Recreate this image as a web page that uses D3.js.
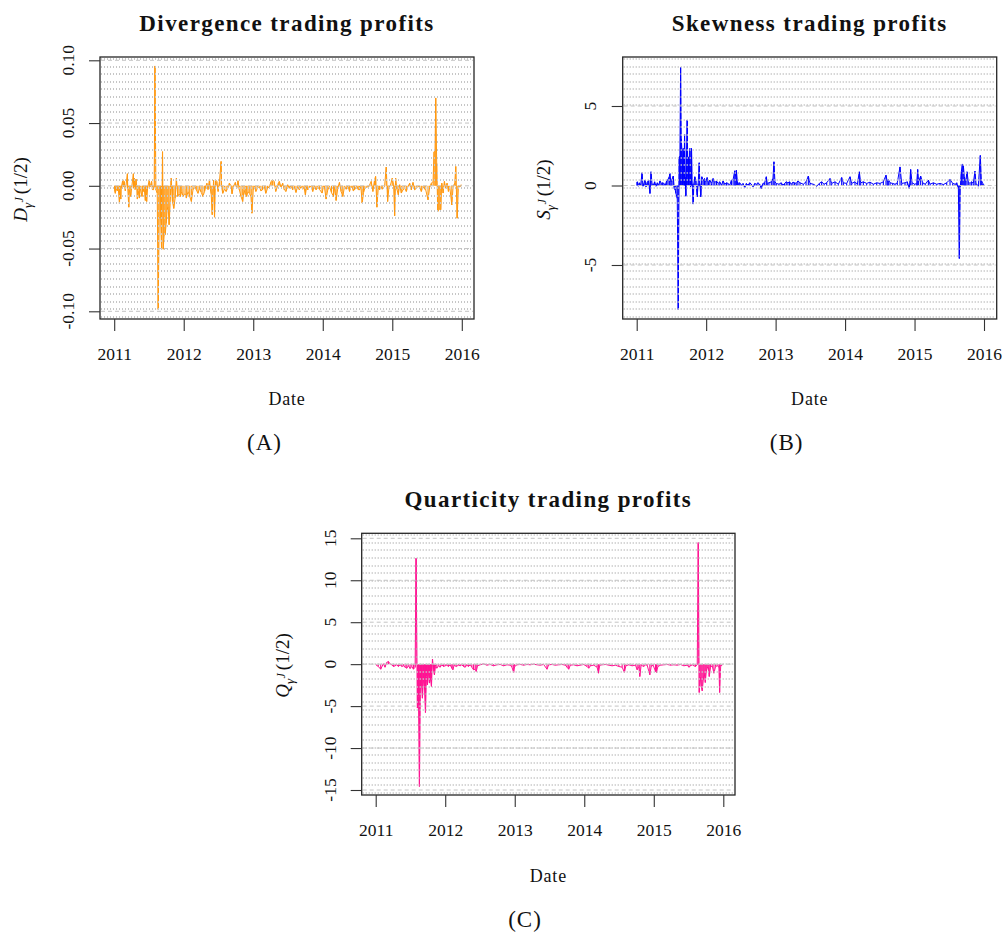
<!DOCTYPE html>
<html><head><meta charset="utf-8">
<script src="https://cdn.jsdelivr.net/npm/d3@7"></script>
<style>
body{margin:0;background:#fff}
svg{display:block}
text{font-family:"Liberation Serif","Times New Roman",serif;fill:#111}
</style>
</head><body>
<svg id="c" width="1007" height="936"></svg>
<script>
// ---------------- data ----------------
const yearTicks = [2011, 2012, 2013, 2014, 2015, 2016];
const divergenceTicks = [-0.10, -0.05, 0, 0.05, 0.10];
const divergenceTickLabels = ["-0.10", "-0.05", "0.00", "0.05", "0.10"];
const skewnessTicks = [-5, 0, 5];
const skewnessTickLabels = ["-5", "0", "5"];
const quarticityTicks = [-15, -10, -5, 0, 5, 10, 15];
const quarticityTickLabels = ["-15", "-10", "-5", "0", "5", "10", "15"];
const titles = ["Divergence trading profits", "Skewness trading profits", "Quarticity trading profits"];
const captions = ["(A)", "(B)", "(C)"];
const yLetters = ["D", "S", "Q"];

// [decimal year, profit]
const divergence = [
[2011.005,-0.001],[2011.010,-0.0045],[2011.016,-0.006],[2011.030,-0.002],[2011.045,-0.004],[2011.057,-0.001],[2011.076,-0.0144],[2011.080,-0.003],[2011.095,-0.0106],[2011.100,-0.002],
[2011.124,0.0048],[2011.130,-0.001],[2011.143,0.0035],[2011.160,-0.004],[2011.190,0.0096],[2011.195,-0.002],[2011.210,-0.017],[2011.215,-0.003],[2011.238,-0.0085],[2011.250,-0.002],
[2011.276,0.0096],[2011.282,-0.002],[2011.290,0.006],[2011.300,-0.003],[2011.314,0.0053],[2011.325,-0.001],[2011.333,-0.0106],[2011.345,-0.004],[2011.362,-0.0098],[2011.375,-0.002],
[2011.400,-0.0085],[2011.410,-0.002],[2011.419,-0.0045],[2011.430,-0.001],[2011.448,-0.0117],[2011.455,-0.003],[2011.467,-0.0125],[2011.480,-0.002],[2011.505,0.0048],[2011.515,-0.001],
[2011.538,0.0035],[2011.550,-0.003],[2011.562,-0.0032],[2011.575,-0.001],[2011.586,0.0955],[2011.600,-0.0032],[2011.619,-0.0058],[2011.633,-0.0985],[2011.648,-0.0245],[2011.667,-0.026],
[2011.681,-0.0505],[2011.695,0.0272],[2011.705,-0.0505],[2011.719,-0.039],[2011.733,-0.039],[2011.748,-0.030],[2011.762,-0.019],[2011.776,-0.0165],[2011.790,-0.031],[2011.810,-0.0085],
[2011.819,0.006],[2011.838,-0.0125],[2011.857,-0.018],[2011.876,-0.010],[2011.895,0.006],[2011.914,-0.0085],[2011.933,-0.0064],[2011.952,-0.0085],[2011.971,-0.0045],[2011.990,-0.0085],
[2012.019,-0.006],[2012.038,-0.0098],[2012.062,-0.0045],[2012.086,-0.0085],[2012.110,-0.0125],[2012.133,-0.0032],[2012.162,-0.0005],[2012.181,-0.0032],[2012.205,-0.006],[2012.229,-0.002],
[2012.250,-0.005],[2012.276,-0.0085],[2012.300,-0.0045],[2012.315,-0.001],[2012.333,0.002],[2012.350,-0.003],[2012.371,0.0053],[2012.381,-0.002],[2012.395,-0.0064],[2012.410,-0.023],
[2012.429,0.0043],[2012.443,-0.025],[2012.457,0.0048],[2012.476,0.0035],[2012.495,-0.0045],[2012.514,0.0035],[2012.538,0.0194],[2012.545,-0.001],[2012.562,-0.006],[2012.586,-0.0027],
[2012.610,-0.0045],[2012.633,-0.0019],[2012.657,0.0021],[2012.681,0.0],[2012.695,-0.0064],[2012.714,-0.0005],[2012.743,0.0027],[2012.762,-0.0019],[2012.781,0.004],[2012.800,-0.0032],
[2012.824,-0.0085],[2012.848,-0.0125],[2012.867,-0.0032],[2012.886,-0.007],[2012.905,-0.0085],[2012.924,-0.0045],[2012.943,-0.006],[2012.967,-0.0085],[2012.981,-0.0218],[2013.000,-0.0032],
[2013.020,-0.001],[2013.038,-0.0045],[2013.060,-0.002],[2013.086,-0.0005],[2013.110,-0.004],[2013.133,-0.0032],[2013.160,-0.001],[2013.181,-0.006],[2013.205,-0.002],[2013.229,-0.001],
[2013.257,0.0032],[2013.276,0.0048],[2013.300,0.0035],[2013.324,-0.0045],[2013.345,-0.001],[2013.362,0.0021],[2013.375,0.0035],[2013.400,-0.001],[2013.423,0.0021],[2013.447,-0.0032],
[2013.471,-0.0045],[2013.495,0.0008],[2013.519,-0.0019],[2013.543,0.0],[2013.567,-0.0032],[2013.591,-0.001],[2013.615,-0.0053],[2013.639,-0.0005],[2013.663,-0.0032],[2013.688,-0.0005],
[2013.712,-0.0027],[2013.731,-0.001],[2013.750,-0.0072],[2013.769,-0.0005],[2013.784,-0.0032],[2013.808,-0.001],[2013.832,-0.0005],[2013.856,-0.0045],[2013.880,0.0],[2013.904,-0.0032],
[2013.928,-0.001],[2013.952,-0.0027],[2013.990,-0.0058],[2014.010,-0.0005],[2014.024,-0.001],[2014.048,-0.0106],[2014.072,-0.0032],[2014.096,-0.0005],[2014.125,-0.0053],[2014.154,-0.0085],
[2014.173,-0.001],[2014.192,-0.0117],[2014.216,-0.0019],[2014.240,0.0027],[2014.264,-0.0045],[2014.288,-0.0085],[2014.313,-0.0005],[2014.337,-0.0027],[2014.361,0.0],[2014.385,-0.0045],
[2014.405,-0.001],[2014.423,-0.001],[2014.440,-0.004],[2014.457,-0.0032],[2014.490,0.0],[2014.510,-0.003],[2014.529,-0.0032],[2014.548,-0.0005],[2014.567,-0.0138],[2014.587,-0.0053],
[2014.606,-0.0019],[2014.635,-0.001],[2014.663,-0.0005],[2014.697,0.0035],[2014.721,-0.0045],[2014.745,0.0048],[2014.760,0.0075],[2014.779,-0.017],[2014.798,-0.0019],[2014.817,-0.0032],
[2014.840,-0.001],[2014.856,-0.0027],[2014.889,-0.0005],[2014.913,0.0149],[2014.933,-0.0125],[2014.952,-0.001],[2014.971,0.0],[2015.000,0.0061],[2015.019,0.0008],[2015.034,-0.0239],
[2015.048,0.0061],[2015.067,-0.0027],[2015.087,-0.0072],[2015.106,0.0008],[2015.130,-0.0058],[2015.154,-0.0032],[2015.178,-0.0019],[2015.202,-0.0045],[2015.226,-0.0005],[2015.250,0.0021],
[2015.274,-0.0032],[2015.298,0.0027],[2015.322,-0.0032],[2015.346,-0.0019],[2015.370,-0.0005],[2015.394,-0.001],[2015.418,-0.0045],[2015.442,-0.0005],[2015.466,-0.0027],[2015.481,-0.0032],
[2015.514,-0.0112],[2015.538,-0.001],[2015.563,0.0021],[2015.587,0.0035],[2015.601,0.027],[2015.615,0.028],[2015.625,0.070],[2015.639,0.018],[2015.654,-0.0205],[2015.668,-0.019],
[2015.683,-0.0186],[2015.697,-0.019],[2015.712,0.0021],[2015.731,-0.0058],[2015.750,0.0035],[2015.769,-0.0019],[2015.788,0.0021],[2015.808,-0.0045],[2015.827,-0.0008],[2015.856,-0.0152],
[2015.875,-0.0005],[2015.899,0.0021],[2015.913,0.0154],[2015.933,-0.0258],[2015.952,0.0],[2015.971,-0.001],[2015.990,0.0008]
];

const skewness = [
[2011.003,0.2],[2011.010,0.23],[2011.024,-0.04],[2011.038,0.17],[2011.057,0.02],[2011.077,0.80],[2011.091,-0.04],[2011.105,0.13],[2011.120,0.34],[2011.134,-0.08],
[2011.153,0.21],[2011.172,0.34],[2011.191,-0.50],[2011.206,0.86],[2011.220,0.13],[2011.239,0.02],[2011.258,0.23],[2011.278,-0.04],[2011.297,0.17],[2011.316,0.02],
[2011.335,0.29],[2011.354,0.13],[2011.373,0.17],[2011.392,0.13],[2011.411,0.02],[2011.431,0.29],[2011.450,0.38],[2011.469,0.55],[2011.478,0.75],[2011.493,0.21],
[2011.507,0.38],[2011.526,0.59],[2011.541,-0.19],[2011.555,-0.29],[2011.565,-0.50],[2011.584,-0.82],[2011.598,-7.80],[2011.612,1.80],[2011.622,1.85],[2011.632,7.42],
[2011.641,2.96],[2011.651,2.22],[2011.660,0.96],[2011.670,2.33],[2011.679,0.13],[2011.689,3.23],[2011.699,0.55],[2011.708,-0.67],[2011.718,2.22],[2011.727,4.11],
[2011.737,0.55],[2011.746,1.80],[2011.756,0.38],[2011.766,2.33],[2011.775,-0.08],[2011.789,2.33],[2011.799,0.13],[2011.813,-1.17],[2011.823,0.13],[2011.837,0.55],
[2011.852,0.29],[2011.871,-0.71],[2011.885,0.13],[2011.900,1.43],[2011.909,0.13],[2011.923,-0.71],[2011.938,0.55],[2011.957,0.29],[2011.976,0.44],[2011.995,0.23],
[2012.014,0.50],[2012.033,0.17],[2012.053,0.34],[2012.077,0.13],[2012.100,0.44],[2012.124,0.17],[2012.148,0.29],[2012.172,0.13],[2012.196,0.23],[2012.220,0.02],
[2012.244,0.29],[2012.268,0.08],[2012.292,0.17],[2012.316,0.13],[2012.340,0.02],[2012.364,0.34],[2012.388,0.38],[2012.411,0.92],[2012.426,0.55],[2012.435,0.96],
[2012.450,0.23],[2012.464,0.13],[2012.483,0.17],[2012.507,0.02],[2012.531,0.13],[2012.555,-0.13],[2012.579,0.13],[2012.603,0.02],[2012.627,0.17],[2012.651,0.08],
[2012.675,-0.08],[2012.699,0.13],[2012.722,0.08],[2012.746,0.17],[2012.770,0.08],[2012.794,-0.19],[2012.818,0.13],[2012.842,0.17],[2012.866,0.55],[2012.880,0.13],
[2012.904,0.17],[2012.938,0.23],[2012.962,0.44],[2012.976,1.49],[2012.990,0.23],[2013.010,0.13],[2013.048,0.08],[2013.081,0.17],[2013.105,0.02],[2013.129,0.13],
[2013.153,0.23],[2013.177,0.17],[2013.201,0.23],[2013.225,0.08],[2013.249,0.21],[2013.273,0.17],[2013.297,0.13],[2013.321,0.29],[2013.351,0.17],[2013.399,0.08],
[2013.438,0.23],[2013.471,0.59],[2013.495,0.13],[2013.543,0.08],[2013.591,-0.04],[2013.630,0.13],[2013.663,0.23],[2013.697,0.08],[2013.735,0.17],[2013.783,0.44],
[2013.807,0.13],[2013.855,0.23],[2013.903,0.08],[2013.951,0.50],[2013.975,0.17],[2014.023,0.13],[2014.071,0.55],[2014.095,0.13],[2014.143,0.23],[2014.177,0.08],
[2014.205,0.86],[2014.225,0.17],[2014.263,0.23],[2014.311,0.13],[2014.359,0.21],[2014.407,0.08],[2014.455,0.17],[2014.503,0.13],[2014.551,0.23],[2014.589,0.65],
[2014.608,0.23],[2014.623,0.38],[2014.647,0.17],[2014.685,0.13],[2014.719,0.08],[2014.752,0.17],[2014.791,1.17],[2014.815,0.13],[2014.863,0.17],[2014.896,0.23],
[2014.925,-0.19],[2014.944,1.01],[2014.964,0.17],[2015.002,0.08],[2015.031,0.13],[2015.045,1.01],[2015.059,0.23],[2015.088,0.59],[2015.117,0.17],[2015.155,0.08],
[2015.199,0.34],[2015.223,0.08],[2015.271,0.17],[2015.319,0.08],[2015.367,0.13],[2015.415,0.06],[2015.463,0.17],[2015.511,0.38],[2015.549,0.13],[2015.587,0.08],
[2015.607,0.17],[2015.631,-0.19],[2015.645,-4.59],[2015.659,-0.08],[2015.674,0.86],[2015.688,1.34],[2015.702,1.28],[2015.717,0.55],[2015.736,0.23],[2015.755,0.86],
[2015.774,0.23],[2015.798,0.13],[2015.822,0.23],[2015.846,0.13],[2015.870,0.90],[2015.885,0.13],[2015.918,-0.04],[2015.947,1.89],[2015.962,0.34],[2015.981,0.13],
[2015.995,0.08]
];

const quarticity = [
[2011.003,-0.08],[2011.038,-0.28],[2011.072,-0.60],[2011.110,0.04],[2011.134,-0.36],[2011.159,0.20],[2011.183,0.32],[2011.207,0.04],[2011.231,-0.08],[2011.255,-0.28],
[2011.279,-0.20],[2011.303,-0.08],[2011.327,-0.28],[2011.351,-0.08],[2011.375,-0.28],[2011.399,-0.20],[2011.423,-0.36],[2011.447,-0.48],[2011.471,-0.20],[2011.495,-0.52],
[2011.519,-0.28],[2011.543,-0.60],[2011.567,-0.36],[2011.581,12.62],[2011.600,-5.24],[2011.615,-3.85],[2011.629,-14.57],[2011.644,-2.66],[2011.658,-2.26],[2011.672,-4.05],
[2011.687,-1.87],[2011.701,-2.66],[2011.716,-5.76],[2011.730,-1.47],[2011.744,-2.46],[2011.759,-1.07],[2011.773,-2.26],[2011.788,-1.67],[2011.802,-2.66],[2011.817,0.60],
[2011.831,-0.67],[2011.845,-1.27],[2011.860,-0.28],[2011.879,-0.48],[2011.903,-0.20],[2011.927,-0.36],[2011.951,-0.08],[2011.975,-0.28],[2011.999,-0.20],[2012.023,-0.12],
[2012.047,-0.28],[2012.071,-0.08],[2012.095,-0.48],[2012.110,-0.67],[2012.129,-0.12],[2012.158,-0.28],[2012.191,-0.12],[2012.215,-0.20],[2012.239,-0.08],[2012.263,-0.28],
[2012.287,-0.36],[2012.311,-0.12],[2012.335,-0.28],[2012.359,-0.08],[2012.383,-0.36],[2012.407,-0.67],[2012.431,-0.60],[2012.446,-0.87],[2012.465,-0.20],[2012.503,-0.08],
[2012.551,0.04],[2012.599,-0.12],[2012.647,-0.04],[2012.695,-0.20],[2012.744,-0.08],[2012.792,-0.04],[2012.840,-0.20],[2012.888,-0.08],[2012.936,-0.12],[2012.960,-0.36],
[2012.984,-0.99],[2012.998,-0.28],[2013.032,-0.08],[2013.080,-0.04],[2013.128,-0.12],[2013.176,-0.04],[2013.224,-0.08],[2013.272,0.00],[2013.320,-0.08],[2013.368,-0.12],
[2013.416,-0.04],[2013.464,-0.60],[2013.488,-0.08],[2013.536,-0.04],[2013.584,-0.12],[2013.632,-0.08],[2013.680,-0.04],[2013.728,-0.12],[2013.752,-0.36],[2013.776,-0.60],
[2013.800,-0.12],[2013.848,-0.08],[2013.896,-0.20],[2013.944,-0.12],[2013.992,-0.04],[2014.040,-0.28],[2014.064,-0.48],[2014.088,-0.20],[2014.136,-0.12],[2014.185,-0.36],
[2014.204,-1.07],[2014.223,-0.12],[2014.256,-0.08],[2014.305,-0.04],[2014.353,-0.12],[2014.401,-0.20],[2014.449,-0.12],[2014.497,-0.28],[2014.545,-0.36],[2014.578,-0.99],
[2014.598,-0.20],[2014.641,-0.08],[2014.689,-0.20],[2014.737,-0.12],[2014.761,-0.67],[2014.785,-0.28],[2014.799,-1.47],[2014.818,-0.12],[2014.857,-0.28],[2014.881,-0.08],
[2014.905,-0.12],[2014.943,-1.27],[2014.963,-0.28],[2014.991,-0.12],[2015.025,-0.87],[2015.039,-0.99],[2015.059,-0.28],[2015.097,-0.12],[2015.145,-0.08],[2015.193,-0.04],
[2015.241,-0.12],[2015.289,-0.08],[2015.337,-0.12],[2015.385,-0.04],[2015.433,-0.20],[2015.481,-0.12],[2015.505,-0.36],[2015.529,-0.20],[2015.553,-0.08],[2015.577,-0.20],
[2015.601,-0.28],[2015.625,-0.04],[2015.640,14.49],[2015.654,-3.37],[2015.669,-1.47],[2015.683,-2.66],[2015.697,-3.18],[2015.712,-1.87],[2015.726,-1.07],[2015.741,-2.18],
[2015.755,-0.87],[2015.769,-0.48],[2015.784,-0.28],[2015.798,-1.47],[2015.817,-0.36],[2015.841,-0.20],[2015.865,-1.07],[2015.889,-0.28],[2015.913,-0.20],[2015.937,-0.36],
[2015.947,-3.37],[2015.962,-0.28],[2015.986,-0.08]
];

// ---------------- layout ----------------
const panels = [
  {id:"A", data:divergence, ticks:divergenceTicks, tickLabels:divergenceTickLabels, color:"#FF9912",
   box:{l:100,r:474,t:57,b:319}, xr:[114.2,461.8], yd:[-0.10,0.10], yr:[311.3,60.3],
   tickLabX:67.8, ylabX:27, ylabY:189.5, titleY:30.5, dateY:405, capX:264.5, capY:450},
  {id:"B", data:skewness, ticks:skewnessTicks, tickLabels:skewnessTickLabels, color:"#0000FF",
   box:{l:622.7,r:996.7,t:57,b:319}, xr:[636.7,984], yd:[-5,5], yr:[265,106],
   tickLabX:590, ylabX:549.5, ylabY:189.5, titleY:30.5, dateY:405, capX:786.7, capY:450},
  {id:"C", data:quarticity, ticks:quarticityTicks, tickLabels:quarticityTickLabels, color:"#FF1493",
   box:{l:361.7,r:735,t:533.3,b:795}, xr:[375.7,723.3], yd:[-15,15], yr:[790,538.3],
   tickLabX:330.5, ylabX:288.5, ylabY:665.5, titleY:506.5, dateY:881.5, capX:525, capY:926.5}
];

const svg = d3.select("#c");
const defs = svg.append("defs");

panels.forEach((p, i) => {
  const {l, r, t, b} = p.box;
  const x = d3.scaleLinear().domain([2011, 2016]).range(p.xr);
  const y = d3.scaleLinear().domain(p.yd).range(p.yr);
  const g = svg.append("g");

  defs.append("clipPath").attr("id", "clip" + p.id)
    .append("rect").attr("x", l).attr("y", t).attr("width", r - l).attr("height", b - t);

  const series = g.append("g").attr("clip-path", `url(#clip${p.id})`);
  // connecting line
  series.append("path").datum(p.data)
    .attr("d", d3.line().x(d => x(d[0])).y(d => y(d[1])))
    .attr("fill", "none").attr("stroke", p.color).attr("stroke-width", 1)
    .attr("stroke-linejoin", "miter");
  // daily moves drawn as vertical strokes from zero
  series.append("g").selectAll("line").data(p.data).join("line")
    .attr("x1", d => x(d[0])).attr("x2", d => x(d[0]))
    .attr("y1", y(0)).attr("y2", d => y(d[1]))
    .attr("stroke", p.color).attr("stroke-width", 1.1);

  // fine dotted grid (drawn over the series)
  const n = 34;
  const gy = d3.range(n + 1).map(k => Math.round(t + 2 + k * (b - t - 4) / n));
  g.append("g").selectAll("line").data(gy).join("line")
    .attr("x1", l + 1).attr("x2", r - 1).attr("y1", d => d).attr("y2", d => d)
    .attr("stroke", "#c6c6c6").attr("stroke-width", 2).attr("stroke-dasharray", "1,2");

  // dashed grid at ticks
  g.append("g").selectAll("line").data(p.ticks).join("line")
    .attr("x1", l + 1).attr("x2", r - 1)
    .attr("y1", d => y(d)).attr("y2", d => y(d))
    .attr("stroke", "#c4c4c4").attr("stroke-width", 1).attr("stroke-dasharray", "4,3");

  // box
  g.append("rect").attr("x", l).attr("y", t).attr("width", r - l).attr("height", b - t)
    .attr("fill", "none").attr("stroke", "#262626").attr("stroke-width", 1.3);

  // x axis
  const xa = g.append("g").attr("transform", `translate(0,${b})`)
    .call(d3.axisBottom(x).tickValues(yearTicks).tickFormat(d3.format("d")).tickSize(12));
  xa.select(".domain").remove();
  xa.attr("font-family", null).attr("font-size", null);
  xa.selectAll("line").attr("stroke", "#333").attr("stroke-width", 1.1);
  xa.selectAll("text").attr("y", 41).attr("dy", null)
    .style("font-size", "17.5px").attr("fill", "#111");

  // y axis
  const ya = g.append("g").attr("transform", `translate(${l},0)`)
    .call(d3.axisLeft(y).tickValues(p.ticks).tickFormat("").tickSize(11));
  ya.select(".domain").remove();
  ya.selectAll("line").attr("stroke", "#333").attr("stroke-width", 1.1);
  g.append("g").selectAll("text").data(p.ticks).join("text")
    .attr("transform", d => `translate(${p.tickLabX},${y(d)}) rotate(-90)`)
    .attr("text-anchor", "middle").attr("dy", "0.33em")
    .style("font-size", "17.5px")
    .text((d, k) => p.tickLabels[k]);

  // y label
  const yl = g.append("text")
    .attr("transform", `translate(${p.ylabX},${p.ylabY}) rotate(-90)`)
    .attr("text-anchor", "middle").style("font-size", "19px");
  yl.append("tspan").attr("font-style", "italic").text(yLetters[i]);
  yl.append("tspan").attr("font-style", "italic").style("font-size", "13px").attr("dy", 5).text("γ");
  yl.append("tspan").attr("font-style", "italic").style("font-size", "12px").attr("dy", -9).attr("dx", 0.5).text("J");
  yl.append("tspan").attr("dy", 4).attr("dx", 3).text("(1/2)");

  // title
  const cx = (l + r) / 2;
  g.append("text").attr("x", cx).attr("y", p.titleY).attr("text-anchor", "middle")
    .style("font-size", "23px").style("font-weight", "bold").style("letter-spacing", "1.4px")
    .text(titles[i]);

  // Date
  g.append("text").attr("x", cx).attr("y", p.dateY).attr("text-anchor", "middle")
    .style("font-size", "18px").style("letter-spacing", "0.8px").text("Date");

  // caption
  g.append("text").attr("x", p.capX).attr("y", p.capY).attr("text-anchor", "middle")
    .style("font-size", "23px").style("letter-spacing", "1px").text(captions[i]);
});
</script>
</body></html>
